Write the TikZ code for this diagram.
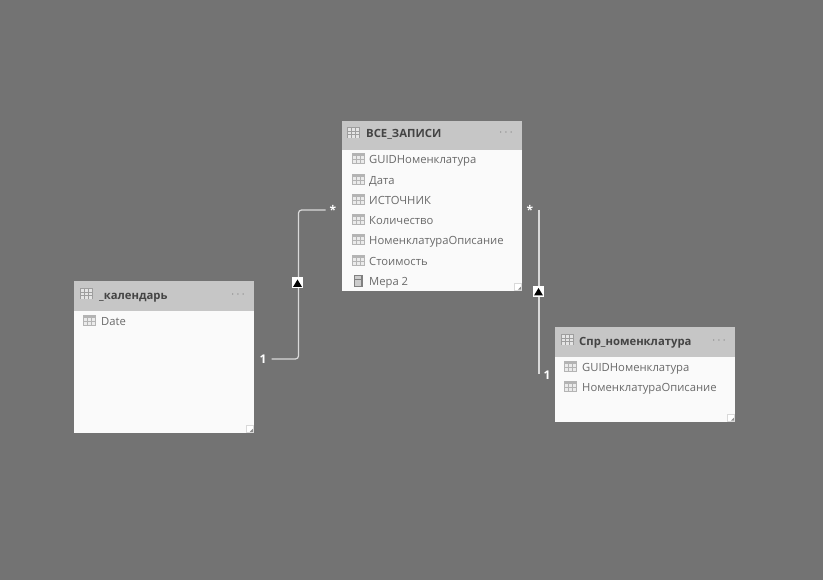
\documentclass[tikz,border=0pt]{standalone}
\usepackage{fontspec}
\setmainfont{Open Sans}
\usetikzlibrary{positioning}
\definecolor{canvasgray}{HTML}{737373}
\definecolor{headgray}{HTML}{C6C6C6}
\definecolor{bodywhite}{HTML}{FAFAFA}
\definecolor{rowtext}{HTML}{6A6A6A}
\definecolor{titletext}{HTML}{444444}
\definecolor{icongray}{HTML}{B4B4B4}
\tikzset{
    tablebody/.style = {rectangle, inner sep=0pt, fill=bodywhite, anchor=north west},
    tablehead/.style = {rectangle, inner sep=0pt, fill=headgray, anchor=north west},
    title/.style = {inner sep=0pt, anchor=base west, text=titletext, font=\fontsize{11.3}{14}\selectfont\bfseries},
    field/.style = {inner sep=0pt, anchor=base west, text=rowtext, font=\fontsize{11.25}{14}\selectfont},
    dots/.style = {inner sep=0pt, text=black!50, font=\fontsize{13}{14}\selectfont},
    card/.style = {inner sep=0pt, text=white, font=\fontsize{12}{14}\selectfont\bfseries},
    relation/.style = {draw=white!85!black, line width=1.2pt, rounded corners=3pt},
    filtermark/.style = {rectangle, inner sep=0pt, minimum width=11pt, minimum height=11pt, fill=white},
    grip/.style = {rectangle, inner sep=0pt, minimum width=7pt, minimum height=7pt, fill=white, draw=black!15, line width=0.5pt},
    tableicon/.pic = {
        \fill[icongray] (-6.5,-5.5) rectangle (6.5,5.5);
        \foreach \u in {-5.5,-1.5,2.5} \foreach \v in {-2.5,1.5}
            \fill[white!92!black] (\u,\v) rectangle ++(3,3);
    },
    headicon/.pic = {
        \fill[black!38] (-6.5,-5.5) rectangle (6.5,5.5);
        \foreach \u in {-5.5,-1.5,2.5} \foreach \v in {-4.5,-1,2.5}
            \fill[white!90!black] (\u,\v) rectangle ++(3,2.5);
    },
    calcicon/.pic = {
        \fill[black!50] (-4.5,-6) rectangle (4.5,6);
        \fill[white!80!black] (-3,-4.5) rectangle (3,-2);
        \foreach \u in {-2,0,2} \foreach \v in {0,2,4} \fill[white!80!black] (\u-0.6,\v-0.6) rectangle (\u+0.6,\v+0.6);
    }
}
\newcommand{\gripmark}[1]{\fill[black!45] ([shift={(-1,-1)}]#1.south east) -- ++(-3,0) -- ++(3,-3) -- cycle;}
\begin{document}
\begin{tikzpicture}[x=1pt,y=-1pt]
\fill[canvasgray] (0,0) rectangle (823,580);
\useasboundingbox (0,0) rectangle (823,580);

% main table
\node (zapisiBody) [tablebody, minimum width=180pt, minimum height=170pt] at (342,121) {};
\node (zapisiHead) [tablehead, minimum width=180pt, minimum height=29pt] at (342,121) {};
\pic at (353.5,133) {headicon};
\node (zapisiTitle) [title] at (366,138) {ВСЕ\_ЗАПИСИ};
\node (zapisiDots) [dots] at (506,133) {$\cdots$};
\foreach \name/\y [count=\i] in {GUIDНоменклатура/159, Дата/180, ИСТОЧНИК/200, Количество/220, НоменклатураОписание/240, Стоимость/261} {
    \pic at (358,\y) {tableicon};
    \node (zapisiRow\i) [field] at (369,\y+4.7) {\name};
}
\pic at (358,281) {calcicon};
\node (zapisiRow7) [field] at (369,285.7) {Мера 2};
\node (zapisiGrip) [grip] at (518,287) {};
\gripmark{zapisiGrip}

% calendar
\node (calBody) [tablebody, minimum width=180pt, minimum height=152pt] at (74,281) {};
\node (calHead) [tablehead, minimum width=180pt, minimum height=30pt] at (74,281) {};
\pic at (86.5,294) {headicon};
\node (calTitle) [title] at (99,299.7) {\_календарь};
\node (calDots) [dots] at (238,295) {$\cdots$};
\pic at (89,321) {tableicon};
\node (calRow1) [field] at (101,325.7) {Date};
\node (calGrip) [grip] at (250,429) {};
\gripmark{calGrip}

% nomenclature
\node (sprBody) [tablebody, minimum width=180pt, minimum height=95pt] at (555,327) {};
\node (sprHead) [tablehead, minimum width=180pt, minimum height=30pt] at (555,327) {};
\pic at (567.5,340) {headicon};
\node (sprTitle) [title] at (579,345.7) {Спр\_номенклатура};
\node (sprDots) [dots] at (719,341) {$\cdots$};
\foreach \name/\y [count=\i] in {GUIDНоменклатура/367, НоменклатураОписание/387} {
    \pic at (570,\y) {tableicon};
    \node (sprRow\i) [field] at (582,\y+4.7) {\name};
}
\node (sprGrip) [grip] at (731,418) {};
\gripmark{sprGrip}

% relations
\node (oneCal) [card] at (263,359) {1};
\node (manyLeft) [card] at (333,210) {*};
\node (manyRight) [card] at (530,210) {*};
\node (oneSpr) [card] at (547,375) {1};
\coordinate (rightTop) at (539,210);
\coordinate (rightBottom) at (539,374);
\coordinate (leftBend) at (298.5,283);
\draw [relation] (oneCal.east) ++(5,0) -| (leftBend) |- ([xshift=-4pt]manyLeft.west);
\draw [relation] (rightTop) -- (rightBottom);
\node (markLeft) [filtermark] at (297.5,283) {};
\node (markRight) [filtermark] at (538.5,291.5) {};
\fill[black] (293,287) -- (297.5,279.5) -- (302,287) -- cycle;
\fill[black] (534,295.5) -- (538.5,288) -- (543,295.5) -- cycle;
\end{tikzpicture}
\end{document}
